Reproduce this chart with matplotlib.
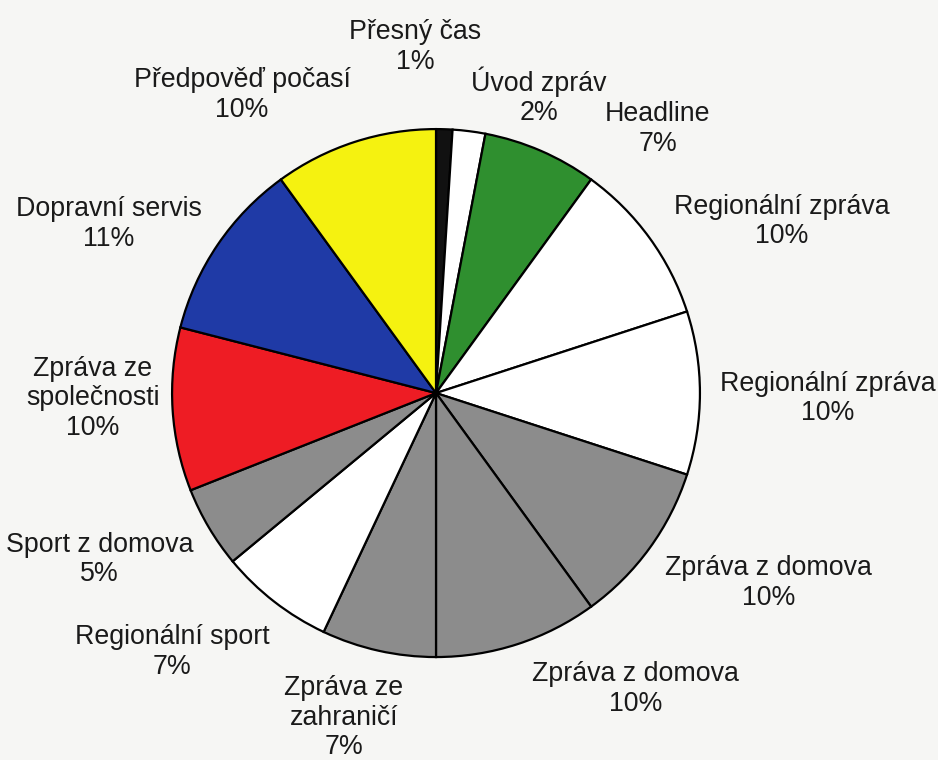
import matplotlib
matplotlib.use('Agg')
import matplotlib.pyplot as plt

# Podíl jednotlivých typů zpráv (%), po směru hodin od 12 h
categories = [
    'Přesný čas', 'Úvod zpráv', 'Headline', 'Regionální zpráva',
    'Regionální zpráva', 'Zpráva z domova', 'Zpráva z domova',
    'Zpráva ze\nzahraničí', 'Regionální sport', 'Sport z domova',
    'Zpráva ze\nspolečnosti', 'Dopravní servis', 'Předpověď počasí',
]
shares = [1, 2, 7, 10, 10, 10, 10, 7, 7, 5, 10, 11, 10]
colors = [
    '#111111', '#ffffff', '#2f8f2f', '#ffffff', '#ffffff', '#8c8c8c',
    '#8c8c8c', '#8c8c8c', '#ffffff', '#8c8c8c', '#ee1c24', '#1f3aa6',
    '#f5f210',
]

# umístění popisků (v jednotkách poloměru)
label_pos = [
    (-0.08, 1.31), (0.39, 1.125), (0.84, 1.00), (1.31, 0.65),
    (1.485, -0.02), (1.26, -0.72), (0.755, -1.12), (-0.35, -1.23),
    (-1.00, -0.98), (-1.275, -0.63), (-1.30, -0.02), (-1.24, 0.64),
    (-0.735, 1.13),
]

plt.rcParams['font.family'] = ['Liberation Sans', 'DejaVu Sans']

fig = plt.figure(figsize=(9.38, 7.6), dpi=100)
fig.patch.set_facecolor('#f6f6f4')
ax = fig.add_axes([0, 0, 1, 1])
ax.set_facecolor('#f6f6f4')

wedges, _ = ax.pie(
    shares, colors=colors, startangle=90, counterclock=False,
    wedgeprops=dict(edgecolor='black', linewidth=1.6),
)

for name, val, (x, y) in zip(categories, shares, label_pos):
    ax.text(x, y, f'{name}\n{val}%', ha='center', va='center',
            fontsize=19.3, color='#1a1a1a', linespacing=1.18)

ax.set_xlim(-1.652, 1.902)
ax.set_ylim(-1.390, 1.489)
ax.set_aspect('equal', adjustable='datalim')
ax.axis('off')

fig.savefig('out.png', dpi=100, facecolor=fig.get_facecolor())
